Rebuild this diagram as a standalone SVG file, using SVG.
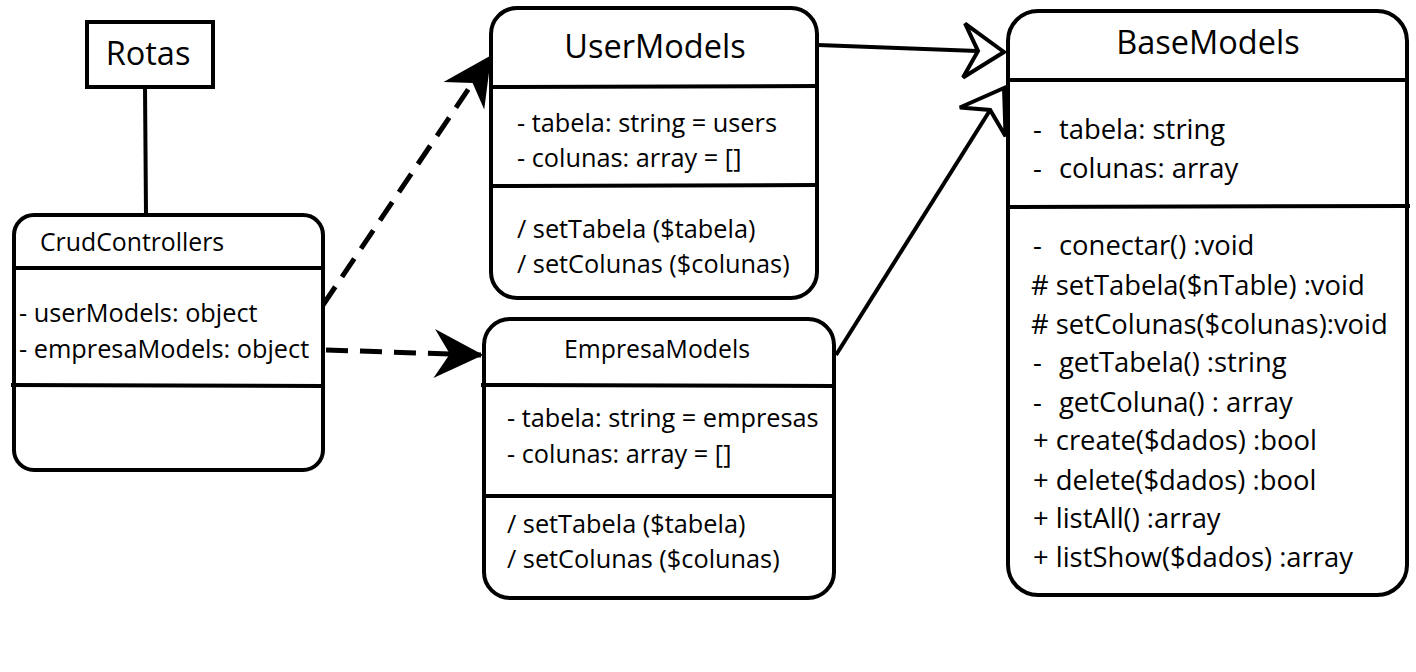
<svg xmlns="http://www.w3.org/2000/svg" width="1416" height="672" viewBox="0 0 1416 672">
<style>
.box{fill:#fff;stroke:#000;stroke-width:4}
.div{stroke:#000;stroke-width:4;fill:none}
text{font-family:"Open Sans","Noto Sans",sans-serif;fill:#000}
.big{font-size:32.5px}
.title{font-size:24.8px}
.item{font-size:25.3px}
.bitem{font-size:27.4px}
.dash{stroke:#000;stroke-width:5;fill:none;stroke-dasharray:22 12}
.solid{stroke:#000;stroke-width:4;fill:none}
</style>
<defs>
<marker id="filled" markerUnits="userSpaceOnUse" viewBox="-50 -30 56 60" refX="0" refY="0" markerWidth="56" markerHeight="60" orient="auto">
<path d="M0,0 L-44,-22 L-30,0 L-44,22 Z" fill="#000" stroke="#000" stroke-width="2" stroke-linejoin="miter"/>
</marker>
<marker id="hollow" markerUnits="userSpaceOnUse" viewBox="-50 -34 58 68" refX="0" refY="0" markerWidth="58" markerHeight="68" orient="auto">
<path d="M0,0 L-40,-27 L-26,0 L-40,27 Z" fill="#fff" stroke="#000" stroke-width="4" stroke-linejoin="miter"/>
</marker>
</defs>
<g id="connectors">
<line x1="145" y1="87" x2="146" y2="214" class="solid"/>
<line x1="323" y1="305" x2="490" y2="57" class="dash" marker-end="url(#filled)"/>
<line x1="326" y1="350" x2="481" y2="355" class="dash" marker-end="url(#filled)"/>
<line x1="818" y1="45" x2="1004" y2="52" class="solid" marker-end="url(#hollow)"/>
<line x1="836" y1="355" x2="1004" y2="88" class="solid" marker-end="url(#hollow)"/>
</g>
<g id="rotas">
<rect x="87" y="22" width="126" height="65" fill="#fff" stroke="#000" stroke-width="4"/>
<text x="148" y="65" class="big" text-anchor="middle">Rotas</text>
</g>
<g id="crudcontrollers">
<rect x="14" y="215" width="309" height="255" rx="20" class="box"/>
<line x1="14" y1="268" x2="325" y2="268" class="div"/>
<line x1="11" y1="385" x2="323" y2="386" class="div"/>
<text x="40" y="251" class="title">CrudControllers</text>
<text x="19" y="322" class="item">- userModels: object</text>
<text x="19" y="358" class="item">- empresaModels: object</text>
</g>
<g id="usermodels">
<rect x="491" y="8" width="326" height="290" rx="26" class="box"/>
<line x1="491" y1="87" x2="819" y2="86" class="div"/>
<line x1="491" y1="186" x2="817" y2="185" class="div"/>
<text x="655" y="58" class="big" text-anchor="middle">UserModels</text>
<text x="517" y="132" class="item">- tabela: string = users</text>
<text x="517" y="167" class="item">- colunas: array = []</text>
<text x="517" y="238" class="item">/ setTabela ($tabela)</text>
<text x="517" y="273" class="item">/ setColunas ($colunas)</text>
</g>
<g id="empresamodels">
<rect x="484" y="319" width="350" height="279" rx="26" class="box"/>
<line x1="481" y1="385" x2="834" y2="386" class="div"/>
<line x1="484" y1="496" x2="834" y2="496" class="div"/>
<text x="657" y="358" class="title" text-anchor="middle">EmpresaModels</text>
<text x="507" y="427" class="item">- tabela: string = empresas</text>
<text x="507" y="463" class="item">- colunas: array = []</text>
<text x="507" y="533" class="item">/ setTabela ($tabela)</text>
<text x="507" y="568" class="item">/ setColunas ($colunas)</text>
</g>
<g id="basemodels">
<rect x="1008" y="11" width="399" height="584" rx="30" class="box"/>
<line x1="1008" y1="80" x2="1407" y2="80" class="div"/>
<line x1="1008" y1="207" x2="1410" y2="206" class="div"/>
<text x="1208" y="54" class="big" text-anchor="middle">BaseModels</text>
<text y="139" class="bitem"><tspan x="1033">-</tspan><tspan x="1059">tabela: string</tspan></text>
<text y="178" class="bitem"><tspan x="1033">-</tspan><tspan x="1059">colunas: array</tspan></text>
<text y="255" class="bitem"><tspan x="1033">-</tspan><tspan x="1059">conectar() :void</tspan></text>
<text x="1031" y="295" class="bitem"># setTabela($nTable) :void</text>
<text x="1031" y="334" class="bitem"># setColunas($colunas):void</text>
<text y="372" class="bitem"><tspan x="1033">-</tspan><tspan x="1059">getTabela() :string</tspan></text>
<text y="412" class="bitem"><tspan x="1033">-</tspan><tspan x="1059">getColuna() : array</tspan></text>
<text x="1033" y="450" class="bitem">+ create($dados) :bool</text>
<text x="1033" y="490" class="bitem">+ delete($dados) :bool</text>
<text x="1033" y="528" class="bitem">+ listAll() :array</text>
<text x="1033" y="567" class="bitem">+ listShow($dados) :array</text>
</g>
</svg>
